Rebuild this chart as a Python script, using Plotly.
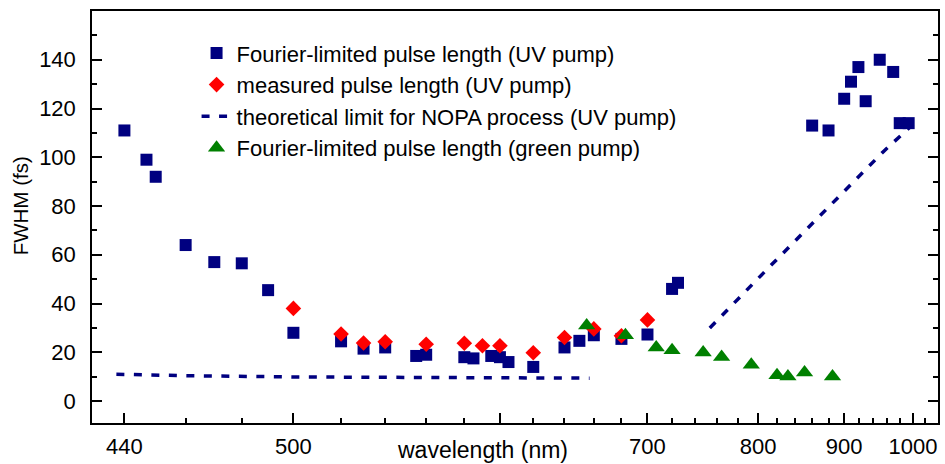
import plotly.graph_objects as go

# ---------------- data (wavelength in nm, FWHM in fs) ----------------
uv_fourier_nm = [440, 447, 450, 460, 470, 480, 490, 500, 520, 530, 540, 555, 560,
                 580, 585, 595, 600, 605, 620, 640, 650, 660, 680, 700, 720, 725,
                 860, 880, 900, 909, 919, 929, 949, 969, 979, 993]
uv_fourier_fs = [111, 99, 92, 64, 57, 56.5, 45.5, 28, 24.5, 21.5, 22, 18.5, 19,
                 18, 17.5, 18.5, 18, 16, 14, 22, 24.7, 27, 25.5, 27.3, 46, 48.5,
                 113, 111, 124, 131, 137, 123, 140, 135, 114, 114]

uv_measured_nm = [500, 520, 530, 540, 560, 580, 590, 600, 620, 640, 660, 680, 700]
uv_measured_fs = [38, 27.5, 23.8, 24.3, 23.3, 23.7, 22.7, 22.7, 19.8, 26.1, 29.6, 26.8, 33.3]

nopa_low_nm = [437.5, 460, 500, 550, 657]
nopa_low_fs = [11.0, 10.4, 9.9, 9.6, 9.4]
nopa_high_nm = [753, 811, 955, 1000]
nopa_high_fs = [30.0, 54.7, 102.5, 113.5]

green_fourier_nm = [655, 683, 707, 720, 747, 764, 793, 820, 832, 851, 885]
green_fourier_fs = [31.0, 27.0, 22.0, 20.8, 19.9, 18.1, 14.9, 10.6, 10.1, 11.7, 10.1]

major_ticks_nm = [440, 500, 600, 700, 800, 900, 1000]
major_labels = ["440", "500", "", "700", "800", "900", "1000"]
minor_ticks_nm = [460, 480, 520, 540, 560, 580, 620, 640, 660, 680, 720, 740, 760,
                  780, 820, 840, 860, 880, 920, 940, 960, 980, 1020]
y_major = [0, 20, 40, 60, 80, 100, 120, 140]
y_minor = [10, 30, 50, 70, 90, 110, 130, 150]

x_range_nm = [430.1, 1042.0]
y_range = [-9, 160]

# axis is linear in inverse wavelength (frequency)
def inv(nm_list):
    return [1000.0 / v for v in nm_list]

NAVY = "#000080"
RED = "#FF0000"
GREEN = "#008000"
FONT = "Liberation Sans, Arial, sans-serif"

fig = go.Figure()
fig.add_trace(go.Scatter(
    x=inv(uv_fourier_nm), y=uv_fourier_fs, mode="markers",
    name="Fourier-limited pulse length (UV pump)",
    marker=dict(symbol="square", size=12, color=NAVY, line=dict(width=0))))
fig.add_trace(go.Scatter(
    x=inv(uv_measured_nm), y=uv_measured_fs, mode="markers",
    name="measured pulse length (UV pump)",
    marker=dict(symbol="diamond", size=12, color=RED, line=dict(width=0))))
fig.add_trace(go.Scatter(
    x=inv(nopa_low_nm), y=nopa_low_fs, mode="lines",
    name="theoretical limit for NOPA process (UV pump)", legendgroup="nopa",
    line=dict(color=NAVY, width=3.5, dash="8px,9.5px")))
fig.add_trace(go.Scatter(
    x=inv(nopa_high_nm), y=nopa_high_fs, mode="lines",
    name="theoretical limit for NOPA process (UV pump)", legendgroup="nopa",
    showlegend=False,
    line=dict(color=NAVY, width=3.5, dash="8px,9.5px")))
fig.add_trace(go.Scatter(
    x=inv(green_fourier_nm), y=green_fourier_fs, mode="markers",
    name="Fourier-limited pulse length (green pump)",
    marker=dict(symbol="triangle-up", size=15, color=GREEN, line=dict(width=0))))

axis_common = dict(
    showline=True, linecolor="black", linewidth=1.5, mirror=True,
    ticks="inside", ticklen=10, tickwidth=1.5, tickcolor="black",
    showgrid=False, zeroline=False, automargin=False,
    tickfont=dict(family=FONT, size=22, color="black"),
)

fig.update_xaxes(
    **axis_common,
    range=inv(x_range_nm),
    tickmode="array", tickvals=inv(major_ticks_nm), ticktext=major_labels,
    minor=dict(tickmode="array", tickvals=inv(minor_ticks_nm), ticks="inside",
               ticklen=5, tickwidth=1.5, tickcolor="black", showgrid=False),
    ticklabelstandoff=3,
)
fig.update_yaxes(
    **axis_common,
    range=y_range,
    tickmode="array", tickvals=y_major, ticktext=[str(v) for v in y_major],
    minor=dict(tickmode="array", tickvals=y_minor, ticks="inside",
               ticklen=5, tickwidth=1.5, tickcolor="black", showgrid=False),
    ticklabelstandoff=10,
)
fig.update_yaxes(mirror="ticks")

fig.add_annotation(text="wavelength (nm)", xref="paper", yref="paper",
                   x=0.4613, y=-0.0665, xanchor="center", yanchor="middle",
                   showarrow=False, font=dict(family=FONT, size=23, color="black"))
fig.add_annotation(text="FWHM (fs)", xref="paper", yref="paper",
                   x=-0.0846, y=0.527, xanchor="center", yanchor="middle", textangle=-90,
                   showarrow=False, font=dict(family=FONT, size=20.5, color="black"))

fig.update_layout(
    template="none",
    width=945, height=464,
    margin=dict(l=92, r=7, t=11, b=41, autoexpand=False),
    paper_bgcolor="white", plot_bgcolor="white",
    showlegend=True,
    legend=dict(x=0.1236, y=0.9485, xanchor="left", yanchor="top",
                bgcolor="rgba(0,0,0,0)", borderwidth=0,
                font=dict(family=FONT, size=22, color="black"),
                tracegroupgap=0, itemsizing="trace"),
)

fig.write_html("out.html")
